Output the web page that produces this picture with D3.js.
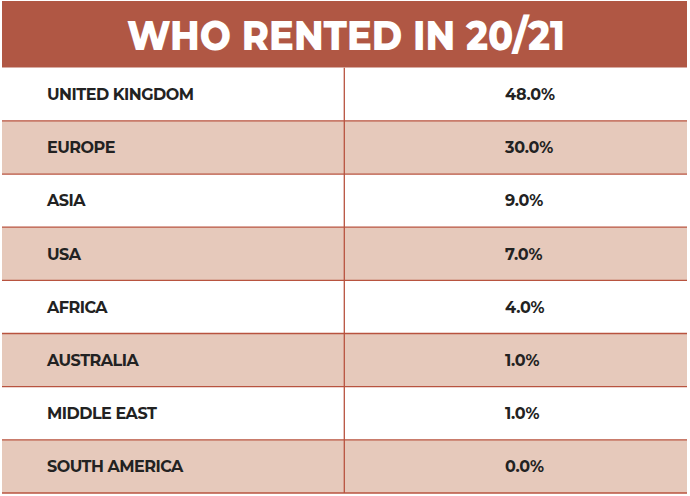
<!DOCTYPE html>
<html>
<head>
<meta charset="utf-8">
<script src="https://cdn.jsdelivr.net/npm/d3@7"></script>
<style>
body { margin: 0; background: #fff; }
svg { display: block; }
</style>
</head>
<body>
<svg id="chart" width="690" height="496"></svg>
<script>
var title = 'WHO RENTED IN 20/21';
var regions = ['UNITED KINGDOM', 'EUROPE', 'ASIA', 'USA', 'AFRICA', 'AUSTRALIA', 'MIDDLE EAST', 'SOUTH AMERICA'];
var shares = [48.0, 30.0, 9.0, 7.0, 4.0, 1.0, 1.0, 0.0];

function viz_table() {
    var svg = d3.select('#chart');
    var left = 2, right = 687, top = 1, headBottom = 67.7, bottom = 493;
    var divider = 344.3;
    var red = '#b05744', line = '#b8533f', pink = '#e6c9bb';

    var y = d3.scaleBand()
	.domain(regions)
	.range([headBottom, bottom]);

    var data = regions.map(function(r, i) {
	return {region: r, share: shares[i], index: i};
    });

    // header
    svg.append('rect')
	.attr('x', left).attr('y', top)
	.attr('width', right - left).attr('height', headBottom - top)
	.attr('fill', red);
    svg.append('text')
	.attr('x', 346).attr('y', 50)
	.attr('text-anchor', 'middle')
	.attr('textLength', 438)
	.attr('lengthAdjust', 'spacingAndGlyphs')
	.style('font-family', 'Montserrat, "Open Sans", sans-serif')
	.style('font-weight', 800)
	.style('font-size', '42px')
	.attr('fill', '#fff')
	.text(title);

    var rows = svg.selectAll('g.row')
	.data(data)
	.enter().append('g')
	.attr('class', 'row')
	.attr('transform', function(d) { return 'translate(0,' + y(d.region) + ')'; });

    rows.append('rect')
	.attr('x', left).attr('width', right - left)
	.attr('height', y.bandwidth())
	.attr('fill', function(d) { return d.index % 2 ? pink : '#fff'; });

    rows.append('text')
	.attr('x', 47).attr('y', y.bandwidth() / 2 + 5.8)
	.style('font-family', 'Montserrat, "Open Sans", sans-serif')
	.style('font-weight', 700)
	.style('font-size', '16px')
	.style('letter-spacing', '-0.5px')
	.attr('fill', '#222')
	.text(function(d) { return d.region; });

    rows.append('text')
	.attr('x', 505).attr('y', y.bandwidth() / 2 + 5.8)
	.style('font-family', 'Montserrat, "Open Sans", sans-serif')
	.style('font-weight', 700)
	.style('font-size', '16px')
	.style('letter-spacing', '-0.2px')
	.attr('fill', '#222')
	.text(function(d) { return d3.format('.1f')(d.share) + '%'; });

    // row rules
    svg.selectAll('line.rule')
	.data(regions.slice(1).concat(['end']))
	.enter().append('line')
	.attr('class', 'rule')
	.attr('x1', left).attr('x2', right)
	.attr('y1', function(d) { return d == 'end' ? bottom : y(d); })
	.attr('y2', function(d) { return d == 'end' ? bottom : y(d); })
	.attr('stroke', line)
	.attr('stroke-width', 1.3);

    svg.append('line')
	.attr('x1', divider).attr('x2', divider)
	.attr('y1', headBottom).attr('y2', bottom)
	.attr('stroke', line)
	.attr('stroke-width', 1.3);
}

viz_table();
</script>
</body>
</html>
